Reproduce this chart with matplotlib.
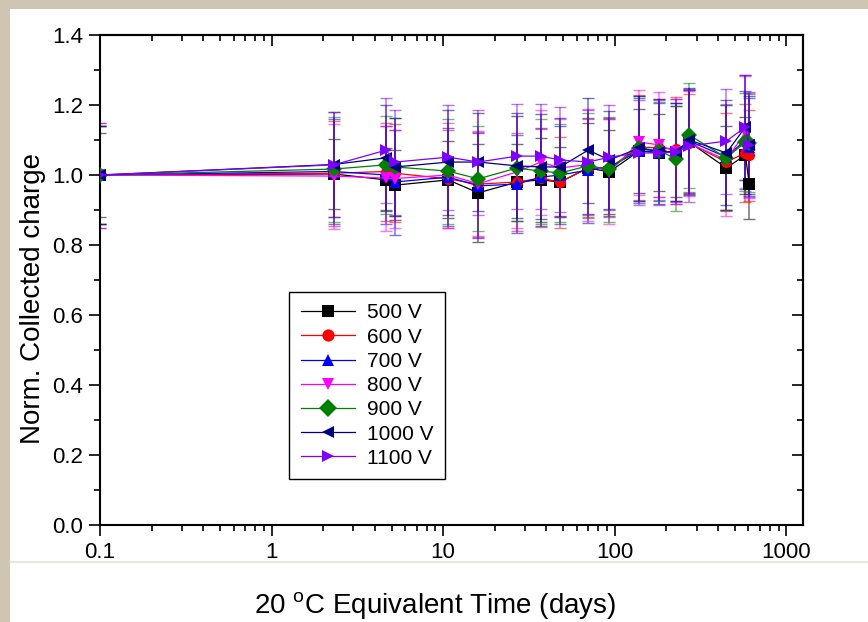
#!/usr/bin/env python3

# plot.py - normalised collected charge vs 20 C equivalent annealing time

import matplotlib
matplotlib.use("Agg")
import matplotlib.pyplot as plt
from matplotlib.patches import Rectangle
from matplotlib.lines import Line2D
from matplotlib.ticker import MultipleLocator, FixedLocator, LogLocator, NullFormatter

plt.rcParams["font.family"] = ["Liberation Sans", "DejaVu Sans"]
plt.rcParams["mathtext.fontset"] = "custom"
plt.rcParams["mathtext.rm"] = "Liberation Sans"

days = [0.1, 2.3, 4.65, 5.25, 10.7, 16, 27, 37, 48, 70, 93, 139, 182, 228, 272, 447, 577, 608]

q500 = [1.0, 1.003, 0.986, 0.971, 0.986, 0.949, 0.98, 0.986, 0.98, 1.02, 1.009, 1.069, 1.063, 1.066, 1.094, 1.02, 1.057, 0.974]
q600 = [1.0, 1.005, 1.01, 1.005, 0.989, 0.974, 0.98, 0.991, 0.98, 1.02, 1.02, 1.08, 1.077, 1.074, 1.091, 1.037, 1.063, 1.057]
q700 = [1.0, 1.01, 1.0, 0.98, 0.994, 0.969, 0.974, 0.994, 1.0, 1.014, 1.023, 1.069, 1.066, 1.066, 1.097, 1.051, 1.1, 1.08]
q800 = [1.0, 0.997, 0.991, 0.99, 1.0, 0.975, 1.009, 1.037, 1.02, 1.03, 1.009, 1.094, 1.086, 1.066, 1.09, 1.043, 1.123, 1.085]
q900 = [1.0, 1.017, 1.029, 1.023, 1.011, 0.989, 1.02, 1.011, 1.006, 1.026, 1.017, 1.077, 1.069, 1.046, 1.114, 1.049, 1.094, 1.091]
q1000 = [1.0, 1.03, 1.049, 1.023, 1.037, 1.037, 1.026, 1.023, 1.023, 1.071, 1.043, 1.077, 1.066, 1.066, 1.1, 1.063, 1.137, 1.085]
q1100 = [1.0, 1.029, 1.071, 1.037, 1.051, 1.037, 1.054, 1.054, 1.043, 1.037, 1.051, 1.063, 1.063, 1.066, 1.083, 1.097, 1.137, 1.086]

e500 = [0.12, 0.10, 0.09, 0.10, 0.11, 0.14, 0.11, 0.12, 0.10, 0.13, 0.12, 0.12, 0.11, 0.13, 0.15, 0.12, 0.11, 0.10]
e600 = [0.14, 0.15, 0.14, 0.14, 0.14, 0.15, 0.14, 0.14, 0.13, 0.14, 0.14, 0.15, 0.14, 0.15, 0.14, 0.14, 0.14, 0.13]
e700 = [0.14, 0.15, 0.14, 0.15, 0.14, 0.15, 0.14, 0.14, 0.14, 0.15, 0.14, 0.15, 0.14, 0.14, 0.15, 0.15, 0.14, 0.14]
e800 = [0.15, 0.15, 0.15, 0.14, 0.15, 0.15, 0.16, 0.15, 0.14, 0.16, 0.15, 0.15, 0.15, 0.15, 0.15, 0.16, 0.16, 0.15]
e900 = [0.14, 0.15, 0.14, 0.14, 0.15, 0.15, 0.15, 0.15, 0.14, 0.15, 0.15, 0.15, 0.14, 0.15, 0.15, 0.15, 0.14, 0.14]
e1000 = [0.14, 0.15, 0.15, 0.14, 0.15, 0.14, 0.15, 0.15, 0.14, 0.15, 0.14, 0.15, 0.15, 0.14, 0.15, 0.15, 0.15, 0.14]
e1100 = [0.15, 0.15, 0.15, 0.15, 0.15, 0.15, 0.15, 0.15, 0.15, 0.15, 0.15, 0.15, 0.15, 0.15, 0.16, 0.15, 0.15, 0.15]

labels = ["500 V", "600 V", "700 V", "800 V", "900 V", "1000 V", "1100 V"]
series = [q500, q600, q700, q800, q900, q1000, q1100]
errors = [e500, e600, e700, e800, e900, e1000, e1100]
colors = ["#000000", "#ff0000", "#0000ff", "#ff00ff", "#008000", "#000080", "#8000ff"]
markers = ["s", "o", "^", "v", "D", "<", ">"]


def main():
    fig = plt.figure(figsize=(8.68, 6.22), dpi=100)
    fig.patch.set_facecolor("#cfc5b2")
    # white slide area over the textured border
    fig.patches.append(Rectangle((10 / 868, 0), 1, 1 - 9 / 622, transform=fig.transFigure,
                                 facecolor="white", edgecolor="none", zorder=-5))
    fig.lines.append(Line2D([10 / 868, 1], [1 - 562 / 622] * 2, transform=fig.transFigure,
                            color="#e4e0d8", lw=1.2, zorder=-4))

    ax = fig.add_axes([100 / 868, 97 / 622, 703 / 868, 490 / 622])
    ax.set_zorder(1)
    handles = []
    for vals, err, col, mk, lab in zip(series, errors, colors, markers, labels):
        ax.errorbar(days, vals, yerr=err, fmt="none", ecolor=col, elinewidth=1.1,
                    capsize=4, capthick=1, alpha=0.55, zorder=2)
        h, = ax.plot(days, vals, color=col, lw=0.9, marker=mk, markersize=8,
                     markeredgewidth=0, label=lab, zorder=3)
        handles.append(h)

    ax.set_xscale("log")
    ax.set_xlim(0.1, 1250)
    ax.set_ylim(0.0, 1.4)
    ax.xaxis.set_major_locator(FixedLocator([0.1, 1, 10, 100, 1000]))
    ax.set_xticklabels(["0.1", "1", "10", "100", "1000"])
    ax.xaxis.set_minor_locator(LogLocator(base=10, subs=range(2, 10)))
    ax.xaxis.set_minor_formatter(NullFormatter())
    ax.yaxis.set_minor_locator(MultipleLocator(0.1))
    ax.set_yticks([0.0, 0.2, 0.4, 0.6, 0.8, 1.0, 1.2, 1.4])
    ax.set_yticklabels(["0.0", "0.2", "0.4", "0.6", "0.8", "1.0", "1.2", "1.4"])

    for s in ax.spines.values():
        s.set_linewidth(1.5)
    ax.tick_params(which="both", direction="out", labelsize=16, width=1.2)
    ax.tick_params(which="major", length=8, pad=4)
    ax.tick_params(which="minor", length=4)

    top = ax.secondary_xaxis("top")
    top.xaxis.set_major_locator(FixedLocator([0.1, 1, 10, 100, 1000]))
    top.xaxis.set_minor_locator(LogLocator(base=10, subs=range(2, 10)))
    top.tick_params(which="both", direction="in", labeltop=False, width=1.2)
    top.tick_params(which="major", length=8)
    top.tick_params(which="minor", length=4)
    right = ax.secondary_yaxis("right")
    right.yaxis.set_major_locator(MultipleLocator(0.2))
    right.yaxis.set_minor_locator(MultipleLocator(0.1))
    right.tick_params(which="both", direction="in", labelright=False, width=1.2)
    right.tick_params(which="major", length=8)
    right.tick_params(which="minor", length=4)
    for sec in (top, right):
        for s in sec.spines.values():
            s.set_linewidth(1.5)

    leg = ax.legend(handles=handles, loc="upper left", bbox_to_anchor=(0.269, 0.4755),
                    borderaxespad=0, fontsize=15, handlelength=2.6, labelspacing=0.25,
                    fancybox=False, framealpha=1, edgecolor="black", borderpad=0.55,
                    handletextpad=0.6, markerscale=1.1)
    leg.get_frame().set_linewidth(1)

    fig.text(435 / 868, 1 - 606 / 622, "20 $^{\\mathrm{o}}$C Equivalent Time (days)",
             ha="center", va="center", fontsize=20)
    fig.text(33 / 868, 1 - 298 / 622, "Norm. Collected charge", rotation=90,
             ha="center", va="center", fontsize=20)

    fig.savefig("out.png", dpi=100)


if __name__ == "__main__":
    main()
